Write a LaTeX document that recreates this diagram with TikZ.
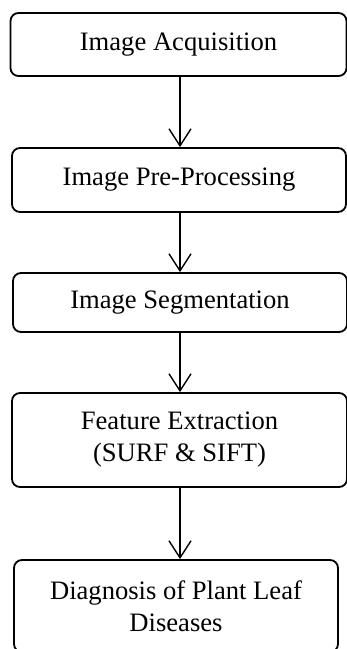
\documentclass[tikz,border=0pt]{standalone}
\usepackage{fontspec}
\setmainfont{Liberation Serif}
\usetikzlibrary{arrows.meta}

\begin{document}
\begin{tikzpicture}[x=0.5pt,y=-0.5pt,
    stepbox/.style={draw,rounded corners=4pt,line width=0.9pt,align=center,
      inner sep=0pt,font=\fontsize{13.3}{16}\selectfont},
    flow/.style={-{Straight Barb[length=8.5pt,width=11pt,line width=0.7pt]},line width=0.8pt}]
  \useasboundingbox (0,0) rectangle (347,649);

  \node (acq) [stepbox,minimum width=168pt,minimum height=31.5pt] at (178.5,44.5) {Image Acquisition};
  \node (pre) [stepbox,minimum width=167pt,minimum height=32pt] at (179,180) {Image Pre-Processing};
  \node (seg) [stepbox,minimum width=167pt,minimum height=29.5pt] at (180,302.5) {Image Segmentation};
  \node (feat) [stepbox,minimum width=167.5pt,minimum height=47pt] at (179.5,440) {Feature Extraction\\(SURF \& SIFT)};
  \node (diag) [stepbox,minimum width=162pt,minimum height=46pt] at (176,606) {Diagnosis of Plant Leaf\\Diseases};

  \draw [flow] (acq.south -| 180,0) -- (pre.north -| 180,0);
  \draw [flow] (pre.south -| 180,0) -- (seg.north -| 180,0);
  \draw [flow] (seg.south -| 180,0) -- (feat.north -| 180,0);
  \draw [flow] (feat.south -| 180,0) -- (diag.north -| 180,0);

\end{tikzpicture}
\end{document}
